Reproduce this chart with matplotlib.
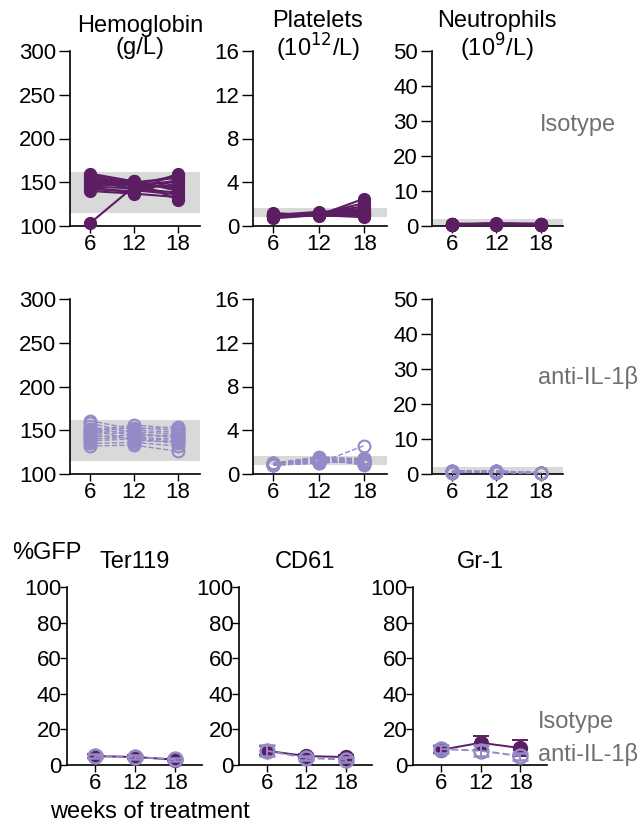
import matplotlib
matplotlib.use('Agg')
import matplotlib.pyplot as plt
import numpy as np

plt.rcParams['font.family'] = ['Liberation Sans', 'DejaVu Sans']
plt.rcParams['font.size'] = 16

W, H = 642, 825
DARK = '#5c1d63'
LIGHT = '#938ac6'
BAND = '#d9d9d9'
GREY_TXT = '#707070'
FS = 16    # tick labels
FT = 17    # titles and notes

weeks = [6, 12, 18]

# individual mice, top two rows (week 6, 12, 18)
hb_iso_6 = [103, 140, 142, 145, 147, 148, 150, 151, 153, 155, 156, 158, 160, 144]
hb_iso_12 = [145, 137, 140, 143, 146, 148, 150, 152, 142, 141, 147, 149, 151, 138]
hb_iso_18 = [152, 133, 160, 138, 145, 150, 155, 140, 148, 136, 158, 143, 130, 153]
hb_anti_6 = [132, 135, 138, 140, 142, 145, 147, 149, 150, 152, 155, 158, 161, 144]
hb_anti_12 = [133, 136, 140, 142, 145, 148, 150, 153, 156, 138, 143, 147, 151, 141]
hb_anti_18 = [126, 132, 135, 140, 143, 146, 148, 150, 152, 137, 145, 141, 154, 138]

plt_iso_6 = [0.7, 0.8, 0.9, 1.0, 1.0, 1.1, 1.2, 0.9, 0.8, 1.0, 1.1, 0.9, 1.0, 0.85]
plt_iso_12 = [1.0, 1.1, 1.2, 1.0, 1.3, 1.1, 0.9, 1.2, 1.0, 1.1, 1.0, 1.2, 1.1, 1.0]
plt_iso_18 = [2.5, 2.1, 1.8, 1.5, 1.3, 1.2, 1.0, 0.9, 1.1, 1.4, 0.8, 1.6, 1.0, 1.2]
plt_anti_6 = [0.8, 0.9, 1.0, 0.9, 0.85, 1.0, 0.95, 0.9, 0.8, 1.0, 0.9, 0.85, 0.95, 1.0]
plt_anti_12 = [1.0, 1.2, 1.4, 1.6, 1.3, 1.1, 1.5, 1.2, 1.0, 1.4, 1.3, 1.1, 1.2, 1.5]
plt_anti_18 = [2.6, 1.0, 1.2, 1.3, 0.9, 1.1, 1.4, 1.0, 1.2, 0.8, 1.3, 1.1, 1.5, 1.0]

neu_iso_6 = [0.3, 0.4, 0.5, 0.6, 0.4, 0.3, 0.5, 0.7, 0.4, 0.5, 0.6, 0.3, 0.4, 0.5]
neu_iso_12 = [0.5, 0.6, 0.4, 0.7, 0.8, 0.5, 0.6, 0.4, 0.5, 0.7, 0.6, 0.5, 0.4, 0.6]
neu_iso_18 = [0.4, 0.5, 0.3, 0.6, 0.4, 0.5, 0.7, 0.3, 0.4, 0.5, 0.6, 0.4, 0.3, 0.5]
neu_anti_6 = [0.5, 0.8, 1.0, 0.6, 0.4, 0.7, 0.9, 0.5, 0.6, 0.3, 0.8, 0.5, 0.7, 0.6]
neu_anti_12 = [0.6, 0.9, 0.7, 0.5, 0.8, 0.4, 0.6, 0.7, 0.5, 0.9, 0.6, 0.8, 0.5, 0.7]
neu_anti_18 = [0.2, 0.3, 0.4, 0.2, 0.3, 0.2, 0.4, 0.3, 0.2, 0.3, 0.4, 0.2, 0.3, 0.2]

# normal ranges (grey bands)
hb_range = (115, 162)
plt_range = (0.8, 1.65)
neu_range = (0.0, 2.0)

# %GFP, mean and error
ter_iso = [5, 4.5, 3]
ter_iso_err = [1, 1, 0.8]
ter_anti = [5, 4.5, 3.2]
ter_anti_err = [1, 1, 1]
cd61_iso = [8, 5, 4.5]
cd61_iso_err = [2.5, 1, 1]
cd61_anti = [8, 4, 3]
cd61_anti_err = [3, 1, 1.5]
gr1_iso = [8.5, 12.5, 9.5]
gr1_iso_err = [2, 4, 4.5]
gr1_anti = [9, 8, 5]
gr1_anti_err = [2, 3, 2]

fig = plt.figure(figsize=(W / 100, H / 100), dpi=100)


def add_ax(left, top, right, bottom):
    return fig.add_axes([left / W, 1 - bottom / H, (right - left) / W, (bottom - top) / H])


def style(ax, ylim, yticks, xlim):
    ax.set_xlim(*xlim)
    ax.set_ylim(*ylim)
    ax.set_yticks(yticks)
    ax.set_xticks(weeks)
    for s in ['top', 'right']:
        ax.spines[s].set_visible(False)
    for s in ['left', 'bottom']:
        ax.spines[s].set_linewidth(1.2)
    ax.tick_params(axis='y', width=1.0, length=8, labelsize=FS, pad=2)
    ax.tick_params(axis='x', width=1.0, length=5, labelsize=FS, pad=1)
    ax.patch.set_alpha(0)


def draw_iso(ax, d6, d12, d18):
    for a, b, c in zip(d6, d12, d18):
        ax.plot(weeks, [a, b, c], color=DARK, lw=1.5, marker='o', ms=8.5,
                mfc=DARK, mec=DARK, clip_on=False, zorder=3)


def draw_anti(ax, d6, d12, d18):
    for a, b, c in zip(d6, d12, d18):
        ax.plot(weeks, [a, b, c], color=LIGHT, lw=1.0, ls='--', marker='o', ms=8.5,
                mfc='none', mec=LIGHT, mew=1.5, clip_on=False, zorder=3)


xl_top = (3.3, 21)
rows = [(51, 226, draw_iso,
         [(hb_iso_6, hb_iso_12, hb_iso_18), (plt_iso_6, plt_iso_12, plt_iso_18),
          (neu_iso_6, neu_iso_12, neu_iso_18)]),
        (299, 474, draw_anti,
         [(hb_anti_6, hb_anti_12, hb_anti_18), (plt_anti_6, plt_anti_12, plt_anti_18),
          (neu_anti_6, neu_anti_12, neu_anti_18)])]
cols = [(70, 200, (100, 300), [100, 150, 200, 250, 300], hb_range),
        (253, 387, (0, 16), [0, 4, 8, 12, 16], plt_range),
        (432, 563, (0, 50), [0, 10, 20, 30, 40, 50], neu_range)]

for top, bot, fn, datasets in rows:
    for (l, r, yl, yt, band), data in zip(cols, datasets):
        ax = add_ax(l, top, r, bot)
        style(ax, yl, yt, xl_top)
        ax.axhspan(band[0], band[1], color=BAND, zorder=0, lw=0)
        fn(ax, *data)

fig.text(140 / W, 1 - 37 / H, 'Hemoglobin\n(g/L)', ha='center', va='center',
         fontsize=FT, linespacing=1.0)
fig.text(318 / W, 1 - 37 / H, 'Platelets\n(10$^{12}$/L)', ha='center', va='center',
         fontsize=FT, linespacing=1.0)
fig.text(497 / W, 1 - 37 / H, 'Neutrophils\n(10$^{9}$/L)', ha='center', va='center',
         fontsize=FT, linespacing=1.0)
fig.text(540 / W, 1 - 125 / H, 'Isotype', color=GREY_TXT, fontsize=FT, va='center')
fig.text(538 / W, 1 - 377 / H, 'anti-IL-1β', color=GREY_TXT, fontsize=FT, va='center')

# bottom row: %GFP
xl_bot = (1.8, 22)
bottom = [((67, 202), 135, 'Ter119', ter_iso, ter_iso_err, ter_anti, ter_anti_err),
          ((239, 372), 305, 'CD61', cd61_iso, cd61_iso_err, cd61_anti, cd61_anti_err),
          ((413, 547), 480, 'Gr-1', gr1_iso, gr1_iso_err, gr1_anti, gr1_anti_err)]
for (l, r), cx, name, iso, iso_e, anti, anti_e in bottom:
    ax = add_ax(l, 587, r, 765)
    style(ax, (0, 100), [0, 20, 40, 60, 80, 100], xl_bot)
    ax.tick_params(axis='y', length=5, pad=-1)
    ax.errorbar(weeks, iso, yerr=iso_e, color=DARK, lw=1.4, marker='o', ms=10,
                mfc=DARK, mec=DARK, capsize=6, capthick=1.4, elinewidth=1.4,
                clip_on=False, zorder=3)
    ax.errorbar(weeks, anti, yerr=anti_e, color=LIGHT, lw=1.4, ls='--', marker='o', ms=10,
                mfc='none', mec=LIGHT, mew=1.8, capsize=6, capthick=1.4, elinewidth=1.4,
                clip_on=False, zorder=4)
    fig.text(cx / W, 1 - 562 / H, name, ha='center', va='center', fontsize=FT)

fig.text(12 / W, 1 - 553 / H, '%GFP', fontsize=FT, va='center')
fig.text(50 / W, 1 - 812 / H, 'weeks of treatment', fontsize=FT, va='center')
fig.text(538 / W, 1 - 722 / H, 'Isotype', color=GREY_TXT, fontsize=FT, va='center')
fig.text(538 / W, 1 - 755 / H, 'anti-IL-1β', color=GREY_TXT, fontsize=FT, va='center')

fig.savefig('out.png', dpi=100, facecolor='white')
